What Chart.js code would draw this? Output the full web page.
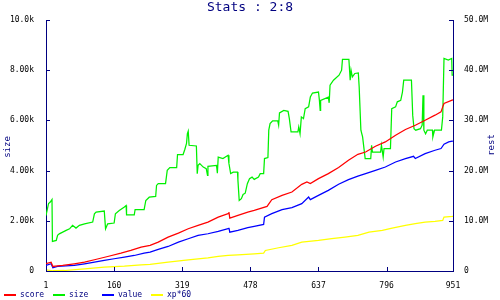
<!DOCTYPE html>
<html>
<head>
<meta charset="utf-8">
<script src="https://cdn.jsdelivr.net/npm/chart.js@4/dist/chart.umd.min.js"></script>
<style>
  html, body { margin: 0; padding: 0; background: #fff; }
  #wrap { width: 500px; height: 300px; position: relative; }
</style>
</head>
<body>
<div id="wrap"><canvas id="chart"></canvas></div>
<script>
// sample index ticks along the bottom
const xTicks = [1, 160, 319, 478, 637, 796, 951];
const sizeTicks = [0, 2000, 4000, 6000, 8000, 10000];
const sizeTickLabels = ['0', '2.00k', '4.00k', '6.00k', '8.00k', '10.0k'];
const restTicks = [0, 10, 20, 30, 40, 50];
const restTickLabels = ['0', '10.0M', '20.0M', '30.0M', '40.0M', '50.0M'];

// size (left axis, units)
const sizeX = [1, 7, 11, 15, 16, 25, 28, 32, 40, 48, 56, 63, 71, 79, 91, 110, 114, 118, 137, 140,
  145, 160, 163, 172, 184, 188, 189, 207, 209, 230, 234, 242, 257, 259, 263, 280, 284, 290, 306, 308,
  321, 325, 329, 331, 333, 335, 352, 354, 356, 360, 368, 375, 378, 379, 399, 401, 403, 414, 426, 428,
  432, 438, 448, 449, 452, 457, 461, 466, 471, 476, 482, 487, 497, 501, 509, 511, 519, 521, 524, 530,
  542, 544, 546, 556, 566, 569, 573, 589, 591, 594, 597, 602, 606, 614, 618, 623, 637, 639, 641, 642,
  660, 662, 664, 672, 685, 691, 693, 708, 711, 713, 716, 722, 730, 732, 736, 740, 746, 759, 761, 763,
  782, 784, 788, 790, 805, 808, 817, 821, 829, 833, 836, 854, 857, 860, 864, 875, 879, 881, 883, 887,
  891, 903, 904, 908, 924, 927, 930, 940, 948, 949, 951];
const sizeY = [2210, 2690, 2745, 2850, 1180, 1220, 1420, 1480, 1550, 1620, 1680, 1820, 1710, 1820, 1880, 1950, 2280, 2350, 2390, 1680,
  1880, 1910, 2280, 2410, 2550, 2610, 2240, 2240, 2450, 2450, 2810, 2940, 2970, 3410, 3480, 3480, 4010, 4120, 4120, 4640,
  4640, 4840, 5080, 5470, 5570, 5010, 4980, 3880, 4210, 4280, 4140, 4080, 3810, 4170, 4210, 3900, 4540, 4480, 4610, 4280,
  3880, 3940, 3940, 3610, 2810, 2880, 3050, 3100, 3480, 3680, 3740, 3650, 3740, 3880, 3880, 4480, 4520, 5610, 5870, 5980,
  5980, 5810, 6300, 6400, 6360, 6070, 5540, 5540, 5740, 5470, 6140, 6070, 6470, 6540, 6930, 7090, 7130, 6830, 6400, 6800,
  6930, 6700, 7400, 7600, 7800, 8000, 8430, 8430, 7600, 8000, 7730, 7870, 7890, 7330, 5610, 5340, 4480, 4480, 5010, 4740,
  4740, 5010, 4540, 4880, 4880, 6470, 6540, 6740, 6800, 7130, 7600, 7600, 6200, 5670, 5610, 5670, 5810, 7000, 5610, 5470,
  5610, 5610, 5340, 5610, 5610, 6140, 8470, 8400, 8470, 7800, 7800];

// score (right axis, millions)
const scoreX = [1, 13, 17, 28, 40, 67, 91, 114, 145, 176, 199, 223, 244, 263, 286, 310, 333, 356, 379, 403,
  426, 428, 430, 449, 472, 487, 517, 528, 552, 575, 598, 610, 618, 637, 660, 684, 707, 729, 747, 770,
  793, 817, 840, 863, 886, 909, 923, 927, 930, 949, 951];
const scoreY = [1.44, 1.76, 0.9, 1.0, 1.1, 1.44, 1.76, 2.24, 2.89, 3.55, 4.09, 4.75, 5.09, 5.75, 6.75, 7.54, 8.42, 9.08, 9.74, 10.74,
  11.42, 11.74, 10.54, 11.08, 11.74, 12.08, 12.87, 14.21, 15.07, 15.73, 17.27, 17.72, 17.41, 18.4, 19.4, 20.6, 22.06, 23.25, 23.71, 24.85,
  25.71, 27.05, 28.18, 29.04, 30.04, 31.04, 31.7, 32.69, 33.37, 34.03, 34.1];

// value (right axis, millions)
const valueX = [1, 13, 17, 28, 67, 91, 114, 137, 160, 184, 207, 230, 244, 263, 286, 310, 333, 356, 379, 403,
  426, 428, 430, 449, 472, 487, 509, 511, 528, 552, 575, 598, 614, 618, 637, 660, 684, 707, 729, 747,
  770, 793, 817, 840, 859, 863, 886, 909, 923, 930, 941, 949, 951];
const valueY = [1.1, 1.44, 0.64, 0.9, 1.1, 1.44, 1.76, 2.1, 2.44, 2.75, 3.09, 3.55, 3.75, 4.29, 4.89, 5.75, 6.43, 7.09, 7.42, 7.88,
  8.42, 8.6, 7.74, 8.08, 8.62, 8.88, 9.28, 10.74, 11.42, 12.22, 12.61, 13.41, 14.73, 14.21, 15.07, 16.07, 17.27, 18.2, 18.9, 19.4,
  20.06, 20.72, 21.72, 22.4, 22.85, 22.4, 23.39, 24.05, 24.39, 25.25, 25.71, 25.85, 25.9];

// xp*60 (right axis, millions)
const xpX = [1, 17, 44, 91, 137, 184, 223, 244, 286, 333, 379, 403, 426, 449, 487, 509, 513, 544, 575, 598,
  637, 668, 699, 729, 755, 786, 809, 840, 863, 886, 909, 927, 930, 949, 951];
const xpY = [0.24, 0.05, 0.1, 0.44, 0.76, 0.96, 1.24, 1.3, 1.76, 2.24, 2.63, 2.89, 3.09, 3.23, 3.43, 3.56, 4.09, 4.63, 5.09, 5.75,
  6.09, 6.43, 6.75, 7.09, 7.74, 8.08, 8.54, 9.08, 9.42, 9.74, 9.88, 10.08, 10.74, 10.88, 10.9];

const NAVY = '#000080';
const MONO = '"DejaVu Sans Mono", "Liberation Mono", monospace';

function pts(xs, ys) {
  return xs.map((x, i) => ({ x: x, y: ys[i] }));
}

function series(label, xs, ys, color, axis) {
  return {
    label: label,
    data: pts(xs, ys),
    borderColor: color,
    backgroundColor: color,
    borderWidth: 1.25,
    pointRadius: 0,
    tension: 0,
    fill: false,
    yAxisID: axis
  };
}

// ticks pointing into the plot, axis titles, chart title and legend
const decorations = {
  id: 'decorations',
  afterDraw(chart) {
    const ctx = chart.ctx;
    const area = chart.chartArea;
    const sx = chart.scales.x, sl = chart.scales.ySize, sr = chart.scales.yRest;
    ctx.save();
    ctx.strokeStyle = NAVY;
    ctx.lineWidth = 1;
    ctx.beginPath();
    sx.ticks.forEach(t => {
      const px = Math.round(sx.getPixelForValue(t.value)) + 0.5;
      ctx.moveTo(px, area.bottom);
      ctx.lineTo(px, area.bottom - 4);
    });
    sl.ticks.forEach(t => {
      const py = Math.round(sl.getPixelForValue(t.value)) + 0.5;
      ctx.moveTo(area.left, py);
      ctx.lineTo(area.left + 4, py);
    });
    sr.ticks.forEach(t => {
      const py = Math.round(sr.getPixelForValue(t.value)) + 0.5;
      ctx.moveTo(area.right, py);
      ctx.lineTo(area.right - 4, py);
    });
    ctx.stroke();

    ctx.fillStyle = NAVY;
    ctx.textAlign = 'center';
    ctx.textBaseline = 'middle';
    ctx.font = '13px ' + MONO;
    ctx.fillText('Stats : 2:8', 250, 8);

    ctx.font = '9px ' + MONO;
    [['size', 8, 147], ['rest', 492, 145]].forEach(([txt, x, y]) => {
      ctx.save();
      ctx.translate(x, y);
      ctx.rotate(-Math.PI / 2);
      ctx.fillText(txt, 0, 0);
      ctx.restore();
    });

    // legend
    ctx.font = '8px ' + MONO;
    ctx.textAlign = 'left';
    chart.data.datasets.forEach((ds, i) => {
      const x0 = 4 + i * 49;
      ctx.strokeStyle = ds.borderColor;
      ctx.lineWidth = 2;
      ctx.beginPath();
      ctx.moveTo(x0, 295);
      ctx.lineTo(x0 + 12, 295);
      ctx.stroke();
      ctx.fillStyle = NAVY;
      ctx.fillText(ds.label, x0 + 16, 295);
    });
    ctx.restore();
  }
};

new Chart(document.getElementById('chart'), {
  type: 'line',
  data: {
    datasets: [
      series('score', scoreX, scoreY, '#ff0000', 'yRest'),
      series('size', sizeX, sizeY, '#00f000', 'ySize'),
      series('value', valueX, valueY, '#0000ff', 'yRest'),
      series('xp*60', xpX, xpY, '#ffff00', 'yRest')
    ]
  },
  options: {
    responsive: true,
    maintainAspectRatio: false,
    animation: false,
    layout: { padding: { top: 20, left: 0, right: 0, bottom: 0 } },
    plugins: {
      legend: { display: false },
      title: { display: false },
      tooltip: { enabled: false }
    },
    scales: {
      x: {
        type: 'linear',
        min: 1,
        max: 951,
        grid: { display: false },
        border: { display: true, color: NAVY, width: 1 },
        afterBuildTicks: s => { s.ticks = xTicks.map(v => ({ value: v })); },
        afterFit: s => { s.height = 29; },
        ticks: {
          autoSkip: false,
          maxRotation: 0,
          padding: 2,
          color: '#000',
          font: { family: MONO, size: 8 },
          callback: v => String(v)
        }
      },
      ySize: {
        type: 'linear',
        position: 'left',
        min: 0,
        max: 10000,
        grid: { display: false },
        border: { display: true, color: NAVY, width: 1 },
        afterBuildTicks: s => { s.ticks = sizeTicks.map(v => ({ value: v })); },
        afterFit: s => { s.width = 46; },
        ticks: {
          padding: 4,
          color: '#000',
          font: { family: MONO, size: 8 },
          callback: v => sizeTickLabels[sizeTicks.indexOf(v)]
        }
      },
      yRest: {
        type: 'linear',
        position: 'right',
        min: 0,
        max: 50,
        grid: { display: false },
        border: { display: true, color: NAVY, width: 1 },
        afterBuildTicks: s => { s.ticks = restTicks.map(v => ({ value: v })); },
        afterFit: s => { s.width = 47; },
        ticks: {
          padding: 3,
          color: '#000',
          font: { family: MONO, size: 8 },
          callback: v => restTickLabels[restTicks.indexOf(v)]
        }
      }
    }
  },
  plugins: [decorations]
});
</script>
</body>
</html>
